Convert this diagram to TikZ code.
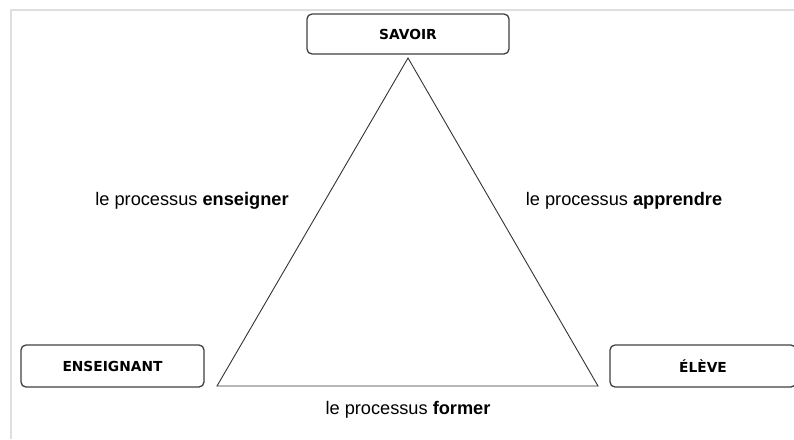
\documentclass[tikz,border=0pt]{standalone}
\usepackage{fontspec}
\setmainfont{Liberation Sans}
\newfontfamily\boxfont{DejaVu Sans}
\tikzset{help lines/.style={very thin,color=gray!50}}
\tikzset{pole/.style={draw=black!75,line width=1.3pt,rounded corners=5pt,fill=white,
  minimum width=183pt,minimum height=42pt,inner sep=0pt,
  font=\boxfont\bfseries\fontsize{13.8}{15}\selectfont}}
\tikzset{procname/.style={font=\fontsize{18.2}{20}\selectfont,inner sep=0pt}}
\tikzset{cadre/.style={line width=1.6pt,color=black!13}}

\begin{document}
\begin{tikzpicture}[x=1pt,y=-1pt]
	\useasboundingbox (0,0) rectangle (794,439);
	% light frame of the page
	\coordinate (c0) at (11,439);
	\coordinate (c1) at (11,10);
	\coordinate (c2) at (794,10);
	\draw [cadre] (c0) -- (c1) -- (c2);

	% the three poles
	\node [pole,minimum width=202pt,minimum height=40pt] (savoir) at (408,34) {SAVOIR};
	\node [pole] (ens) at (112.5,366) {ENSEIGNANT};
	\node [pole,minimum width=186pt] (eleve) at (703,366) {ÉLÈVE};

	% corners of the triangle
	\coordinate (t0) at (408,58);
	\coordinate (t1) at (217,386);
	\coordinate (t2) at (598,386);
	\draw [black!80,line width=0.9pt,line join=miter] (t0) -- (t1) -- (t2) -- cycle;

	% names of the processes
	\node [procname] (penseigner) at (192,201) {le processus \textbf{enseigner}};
	\node [procname] (papprendre) at (624,201) {le processus \textbf{apprendre}};
	\node [procname] (pformer) at (408,410) {le processus \textbf{former}};
\end{tikzpicture}
\end{document}
